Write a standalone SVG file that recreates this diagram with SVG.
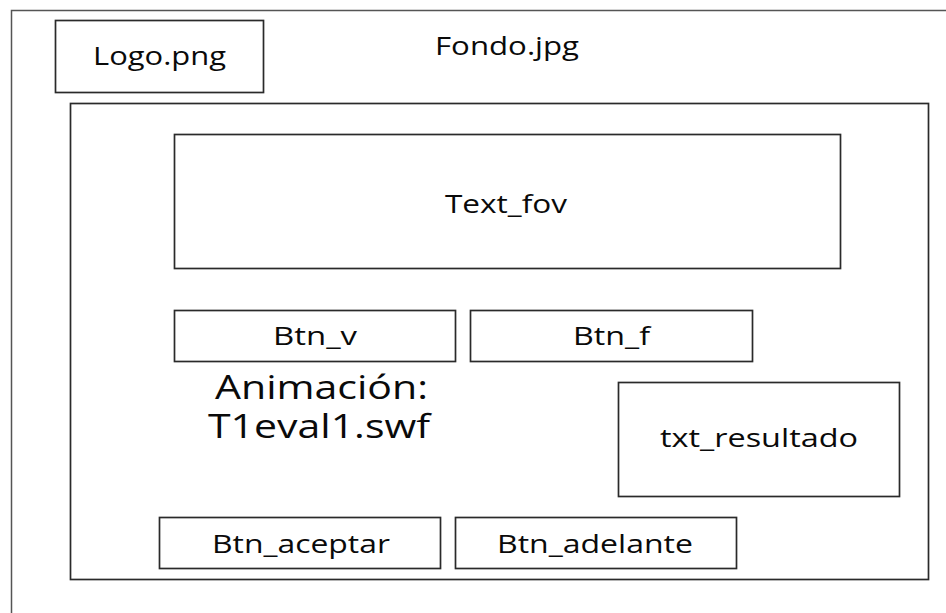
<svg xmlns="http://www.w3.org/2000/svg" width="946" height="613" viewBox="0 0 946 613">
<style>
.box{fill:#fff;stroke:#2a2a2a;stroke-width:1.7}
.frame{fill:none;stroke:#555;stroke-width:1.5}
text{font-family:"Open Sans","Noto Sans",sans-serif;font-size:25px;fill:#0a0a0a}
.big{font-size:32px}
</style>
<rect width="946" height="613" fill="#fff"/>
<g id="fondo">
<path class="frame" d="M11.5,613 V10.5 H946"/>
<text x="435" y="55" textLength="144" lengthAdjust="spacingAndGlyphs">Fondo.jpg</text>
</g>
<g id="logo">
<rect class="box" x="55.5" y="20.5" width="208" height="72"/>
<text x="93" y="65" textLength="133" lengthAdjust="spacingAndGlyphs">Logo.png</text>
</g>
<g id="contenedor">
<rect class="box" x="70.5" y="103.5" width="858" height="476"/>
</g>
<g id="text_fov">
<rect class="box" x="174.5" y="134.5" width="666" height="134"/>
<text x="445" y="213" textLength="122" lengthAdjust="spacingAndGlyphs">Text_fov</text>
</g>
<g id="btn_v">
<rect class="box" x="174.5" y="310.5" width="281" height="51"/>
<text x="273" y="345" textLength="84" lengthAdjust="spacingAndGlyphs">Btn_v</text>
</g>
<g id="btn_f">
<rect class="box" x="470.5" y="310.5" width="282" height="51"/>
<text x="573" y="345" textLength="77" lengthAdjust="spacingAndGlyphs">Btn_f</text>
</g>
<g id="animacion">
<text class="big" x="215" y="399" textLength="213" lengthAdjust="spacingAndGlyphs">Animación:</text>
<text class="big" x="208" y="438" textLength="222" lengthAdjust="spacingAndGlyphs">T1eval1.swf</text>
</g>
<g id="txt_resultado">
<rect class="box" x="618.5" y="382.5" width="281" height="114"/>
<text x="660" y="447" textLength="198" lengthAdjust="spacingAndGlyphs">txt_resultado</text>
</g>
<g id="btn_aceptar">
<rect class="box" x="159.5" y="517.5" width="281" height="51"/>
<text x="212" y="553" textLength="178" lengthAdjust="spacingAndGlyphs">Btn_aceptar</text>
</g>
<g id="btn_adelante">
<rect class="box" x="455.5" y="517.5" width="281" height="51"/>
<text x="497" y="553" textLength="196" lengthAdjust="spacingAndGlyphs">Btn_adelante</text>
</g>
<g id="connectors"/>
</svg>
